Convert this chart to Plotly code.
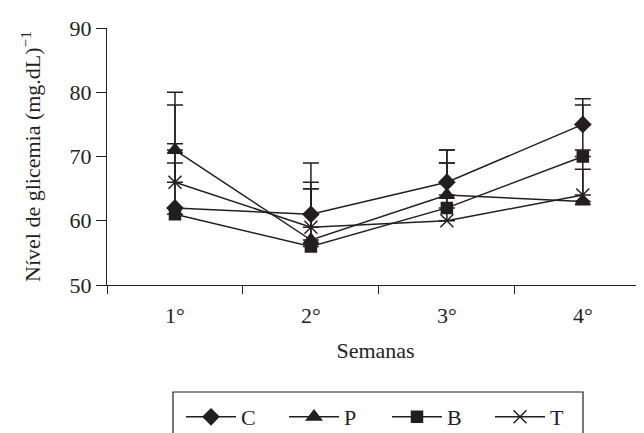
import plotly.graph_objects as go

weeks = ["1°", "2°", "3°", "4°"]
series_names = ["C", "P", "B", "T"]
C_mean = [62, 61, 66, 75]
C_sd = [10, 8, 5, 4]
P_mean = [71, 57, 64, 63]
P_sd = [9, 8, 5, 5]
B_mean = [61, 56, 62, 70]
B_sd = [8, 9, 9, 8]
T_mean = [66, 59, 60, 64]
T_sd = [12, 7, 9, 7]

symbols = ["diamond", "triangle-up", "square", "x-thin-open"]
sizes = [12, 13, 11, 13]
means = [C_mean, P_mean, B_mean, T_mean]
sds = [C_sd, P_sd, B_sd, T_sd]

ink = "#231f20"
font_family = "Liberation Serif, Times New Roman, serif"

# figure coords (page has an 8px body margin)
W, H = 636, 425
ML, MT = 99, 20
PW, PB = 537, 277  # plot width, plot bottom (px from top)
PH = PB - MT


def px_x(x):
    return (x - ML) / PW


def px_y(y):
    return (PB - y) / PH


fig = go.Figure()
for name, m, s, sym, sz in zip(series_names, means, sds, symbols, sizes):
    fig.add_trace(go.Scatter(
        x=weeks, y=m, name=name, mode="lines+markers",
        line=dict(color=ink, width=1.5),
        marker=dict(symbol=sym, size=sz, color=ink,
                    line=dict(color=ink, width=1.5)),
        error_y=dict(type="data", symmetric=False, array=s,
                     arrayminus=[0] * len(s), color=ink,
                     thickness=1.5, width=8),
    ))

fig.update_layout(
    width=W, height=H,
    margin=dict(l=ML, r=W - ML - PW, t=MT, b=H - PB, autoexpand=False),
    paper_bgcolor="white", plot_bgcolor="white",
    font=dict(family=font_family, size=22, color=ink),
    showlegend=True,
    legend=dict(orientation="h", x=px_x(173), xanchor="left",
                y=px_y(388), yanchor="top",
                font=dict(size=22, family=font_family, color=ink),
                itemwidth=50,
                entrywidth=38, entrywidthmode="pixels",
                bgcolor="rgba(0,0,0,0)", borderwidth=0),
    shapes=[dict(type="rect", xref="paper", yref="paper",
                 x0=px_x(165), x1=px_x(575),
                 y0=px_y(384), y1=px_y(440),
                 line=dict(color=ink, width=1.2))],
)
fig.update_xaxes(
    type="category", range=[-0.5, 3.45],
    tickson="boundaries", ticks="outside", ticklen=8, tickcolor=ink,
    showline=True, linecolor=ink, linewidth=1.2, showgrid=False,
    tickfont=dict(size=22), ticklabelstandoff=10,
    title=dict(text="Semanas", font=dict(size=22), standoff=16),
)
fig.update_yaxes(
    range=[50, 90], dtick=10, ticks="outside", ticklen=10, tickcolor=ink,
    showline=True, linecolor=ink, linewidth=1.2, showgrid=False,
    zeroline=False, tickfont=dict(size=22),
    title=dict(text="Nível de glicemia (mg.dL)<sup>−1</sup>", font=dict(size=22), standoff=22),
)

fig.write_html("out.html")
